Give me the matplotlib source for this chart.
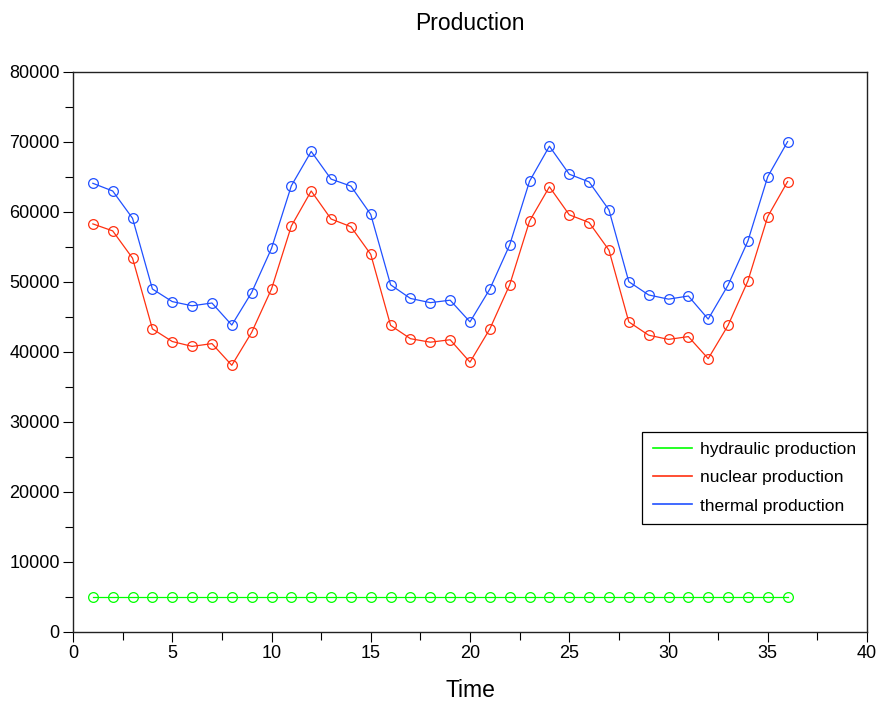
import matplotlib
matplotlib.use("Agg")
import matplotlib.pyplot as plt
from matplotlib.ticker import MultipleLocator

# Data
time = list(range(1, 37))
hydraulic = [5000] * 36
nuclear = [58300, 57300, 53400, 43300, 41500, 40800, 41200, 38100, 42800, 49000,
           58000, 63000, 59000, 57900, 53950, 43800, 41900, 41400, 41750, 38550,
           43300, 49600, 58700, 63600, 59600, 58500, 54550, 44300, 42400, 41800,
           42200, 39050, 43800, 50150, 59350, 64350]
thermal = [64100, 63000, 59100, 49000, 47200, 46600, 47000, 43850, 48500, 54800,
           63750, 68650, 64700, 63700, 59650, 49600, 47650, 47050, 47400, 44300,
           49000, 55300, 64400, 69400, 65400, 64300, 60300, 50050, 48150, 47550,
           48000, 44700, 49550, 55850, 65050, 70050]

labels = ["hydraulic production", "nuclear production", "thermal production"]
colors = ["#00ff00", "#ff3010", "#2050ff"]

plt.rcParams["font.family"] = ["Liberation Sans", "DejaVu Sans"]

fig = plt.figure(figsize=(8.77, 7.02), dpi=100)
ax = fig.add_axes([73 / 877, 70 / 702, 794 / 877, 560 / 702])

for series, label, color in zip([hydraulic, nuclear, thermal], labels, colors):
    ax.plot(time, series, color=color, lw=0.9, marker="o", ms=7,
            mfc="none", mec=color, mew=0.9, label=label)

ax.set_xlim(0, 40)
ax.set_ylim(0, 80000)
ax.xaxis.set_major_locator(MultipleLocator(5))
ax.xaxis.set_minor_locator(MultipleLocator(2.5))
ax.yaxis.set_major_locator(MultipleLocator(10000))
ax.yaxis.set_minor_locator(MultipleLocator(5000))
ax.tick_params(which="major", direction="out", length=7.5, width=0.8, labelsize=13, pad=2)
ax.tick_params(which="minor", direction="out", length=5.5, width=0.8)
for s in ax.spines.values():
    s.set_linewidth(1.0)
    s.set_color("#222222")

ax.set_title("Production", fontsize=16.5, pad=30)
ax.set_xlabel("Time", fontsize=16.5, labelpad=12)

# legend box sits against the right spine, above the hydraulic line
leg = ax.legend(loc="lower right", bbox_to_anchor=(1.0, 0.193), borderaxespad=0,
                fancybox=False, edgecolor="black", fontsize=12.5, handlelength=2.3,
                handletextpad=0.46, labelspacing=0.75, borderpad=0.6, framealpha=1)
leg.get_frame().set_linewidth(0.9)
for h in leg.get_lines():
    h.set_marker("")
    h.set_linewidth(1.2)

fig.savefig("out.png", dpi=100)
